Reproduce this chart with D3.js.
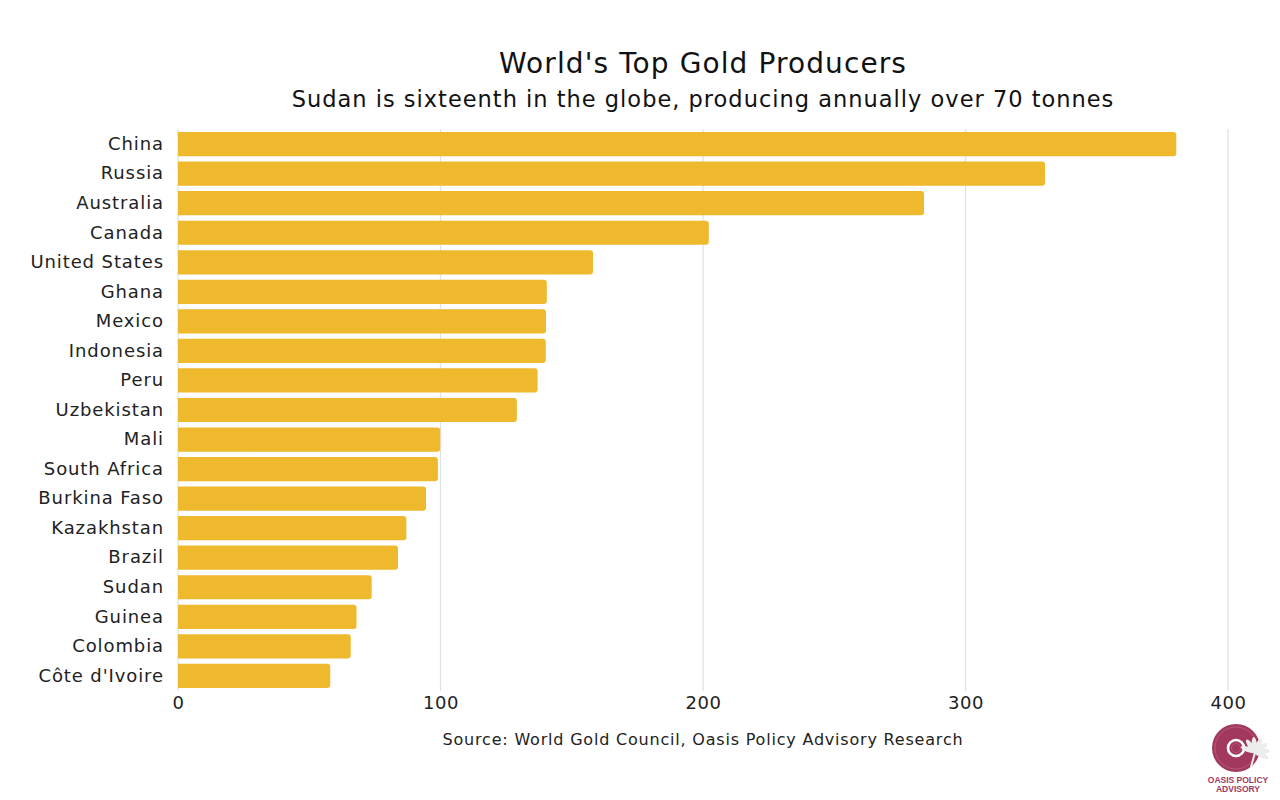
<!DOCTYPE html>
<html>
<head>
<meta charset="utf-8">
<script src="https://cdn.jsdelivr.net/npm/d3@7"></script>
<style>
  body { margin: 0; background: #fff; }
  text { font-family: "DejaVu Sans", "Noto Sans", sans-serif; }
</style>
</head>
<body>
<div id="canvas"></div>
<script>
const countries = ["China", "Russia", "Australia", "Canada", "United States", "Ghana", "Mexico",
  "Indonesia", "Peru", "Uzbekistan", "Mali", "South Africa", "Burkina Faso", "Kazakhstan",
  "Brazil", "Sudan", "Guinea", "Colombia", "Côte d'Ivoire"];
const tonnes = [380.3, 330.3, 284.2, 202.2, 158.1, 140.5, 140.2, 140.1, 137, 129.1,
  99.9, 99, 94.5, 87, 83.8, 73.8, 68, 65.8, 58];
const xTicks = [0, 100, 200, 300, 400];

const width = 1280, height = 800;
const margin = {top: 132, right: 52, bottom: 112, left: 178};
const fontFam = "'DejaVu Sans', 'Noto Sans', sans-serif";

const svg = d3.select("#canvas").append("svg")
  .attr("width", width).attr("height", height);

const x = d3.scaleLinear().domain([0, 400]).range([margin.left, width - margin.right]);
const y = d3.scaleBand().domain(countries).range([132, 688]).paddingInner(0.18).paddingOuter(0);

// gridlines
svg.append("g").selectAll("line").data(xTicks).join("line")
  .attr("x1", d => x(d)).attr("x2", d => x(d))
  .attr("y1", 129).attr("y2", 691)
  .attr("stroke", "#e2e2e2").attr("stroke-width", 1.3);

// bars with rounded right end
const r = 3;
svg.append("g").selectAll("path").data(countries).join("path")
  .attr("fill", "#eeb92c")
  .attr("d", (c, i) => {
    const x0 = x(0), x1 = x(tonnes[i]), y0 = y(c), h = y.bandwidth();
    return `M${x0},${y0}H${x1 - r}Q${x1},${y0} ${x1},${y0 + r}V${y0 + h - r}Q${x1},${y0 + h} ${x1 - r},${y0 + h}H${x0}Z`;
  });

// y labels
const yAxis = svg.append("g").attr("transform", `translate(${margin.left},0)`)
  .call(d3.axisLeft(y).tickSize(0).tickPadding(14));
yAxis.select(".domain").remove();
yAxis.selectAll("text").attr("font-size", 18).attr("fill", "#222").style("font-family", fontFam)
  .style("letter-spacing", "0.9px");

// x labels
const xAxis = svg.append("g").attr("transform", `translate(0,688)`)
  .call(d3.axisBottom(x).tickValues(xTicks).tickSize(0).tickPadding(8));
xAxis.select(".domain").remove();
xAxis.selectAll("text").attr("font-size", 18).attr("fill", "#222").style("font-family", fontFam)
  .style("letter-spacing", "0.6px");

const cx = x(200);
svg.append("text").attr("x", cx).attr("y", 73).attr("text-anchor", "middle")
  .attr("font-size", 28).attr("fill", "#111").style("letter-spacing", "1.1px")
  .text("World's Top Gold Producers");
svg.append("text").attr("x", cx).attr("y", 107).attr("text-anchor", "middle")
  .attr("font-size", 22.5).attr("fill", "#111").style("letter-spacing", "1px")
  .text("Sudan is sixteenth in the globe, producing annually over 70 tonnes");
svg.append("text").attr("x", cx).attr("y", 745).attr("text-anchor", "middle")
  .attr("font-size", 16).attr("fill", "#222").style("letter-spacing", "0.8px")
  .text("Source: World Gold Council, Oasis Policy Advisory Research");

// logo
const logo = svg.append("g").attr("transform", "translate(1236,748)");
logo.append("circle").attr("r", 24).attr("fill", "#a3385f");
logo.append("circle").attr("r", 21).attr("fill", "none").attr("stroke", "#c06688").attr("stroke-width", 0.7);
logo.append("circle").attr("r", 8).attr("fill", "none").attr("stroke", "#fff").attr("stroke-width", 2.6);
logo.append("circle").attr("r", 4.5).attr("fill", "none").attr("stroke", "#c06688").attr("stroke-width", 0.6);
// palm: trunk + fronds
const palm = logo.append("g").attr("transform", "translate(19,4)").attr("fill", "#ececec");
palm.append("path").attr("d", "M-1,0 Q-3,8 -5,15 L-3,15 Q-1,8 1,0Z");
[-160, -125, -95, -65, -35, -5, 25].forEach(a => {
  palm.append("ellipse").attr("cx", 7).attr("cy", 0).attr("rx", 8).attr("ry", 2.6)
    .attr("transform", `rotate(${a})`);
});
logo.append("text").attr("x", 2).attr("y", 35).attr("text-anchor", "middle")
  .attr("font-size", 8.5).attr("font-weight", 700).attr("fill", "#a3385f")
  .style("font-family", "'Liberation Sans', Arial, sans-serif").text("OASIS POLICY");
logo.append("text").attr("x", 2).attr("y", 44).attr("text-anchor", "middle")
  .attr("font-size", 8.5).attr("font-weight", 700).attr("fill", "#a3385f")
  .style("font-family", "'Liberation Sans', Arial, sans-serif").text("ADVISORY");
</script>
</body>
</html>
